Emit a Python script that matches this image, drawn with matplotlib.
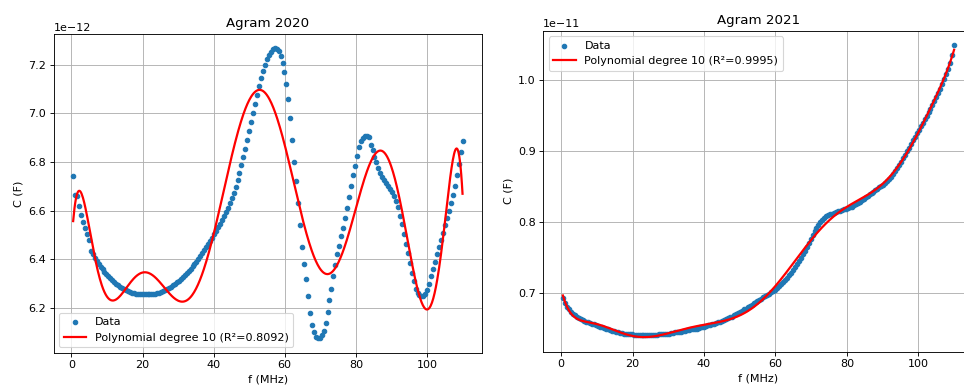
import numpy as np
import matplotlib
matplotlib.use("Agg")
import matplotlib.pyplot as plt

# Frequency grid (MHz): 200 equally spaced samples from 0.5 to 110 MHz
freq_mhz = np.linspace(0.5, 110.0, 200)

# Agram 2020 measured capacitance (units of 1e-12 F)
c2020 = [
    6.742, 6.664, 6.662, 6.618, 6.582, 6.552, 6.527, 6.503, 6.478, 6.433,
    6.423, 6.405, 6.392, 6.380, 6.369, 6.360, 6.350, 6.341, 6.333, 6.324,
    6.316, 6.308, 6.300, 6.294, 6.288, 6.282, 6.277, 6.273, 6.269, 6.266,
    6.263, 6.261, 6.259, 6.258, 6.257, 6.256, 6.256, 6.256, 6.256, 6.256,
    6.257, 6.258, 6.259, 6.261, 6.263, 6.266, 6.269, 6.273, 6.277, 6.282,
    6.287, 6.293, 6.299, 6.305, 6.312, 6.319, 6.327, 6.335, 6.343, 6.352,
    6.361, 6.371, 6.381, 6.391, 6.402, 6.413, 6.425, 6.437, 6.449, 6.461,
    6.474, 6.487, 6.505, 6.518, 6.532, 6.547, 6.563, 6.578, 6.594, 6.610,
    6.630, 6.650, 6.672, 6.697, 6.725, 6.755, 6.787, 6.820, 6.855, 6.890,
    6.926, 6.963, 7.000, 7.038, 7.075, 7.110, 7.143, 7.173, 7.200, 7.222,
    7.240, 7.253, 7.262, 7.266, 7.265, 7.255, 7.235, 7.205, 7.170, 7.120,
    7.060, 6.980, 6.890, 6.800, 6.720, 6.630, 6.540, 6.450, 6.380, 6.320,
    6.250, 6.180, 6.130, 6.100, 6.083, 6.076, 6.076, 6.088, 6.105, 6.140,
    6.185, 6.235, 6.280, 6.330, 6.375, 6.420, 6.455, 6.495, 6.530, 6.570,
    6.610, 6.655, 6.700, 6.745, 6.785, 6.825, 6.860, 6.885, 6.900, 6.908,
    6.908, 6.902, 6.870, 6.850, 6.820, 6.800, 6.775, 6.755, 6.738, 6.724,
    6.712, 6.700, 6.690, 6.675, 6.660, 6.640, 6.615, 6.580, 6.545, 6.505,
    6.465, 6.425, 6.385, 6.345, 6.310, 6.280, 6.262, 6.254, 6.250, 6.251,
    6.258, 6.275, 6.300, 6.330, 6.360, 6.390, 6.420, 6.450, 6.480, 6.510,
    6.540, 6.570, 6.600, 6.630, 6.665, 6.700, 6.745, 6.790, 6.840, 6.888,
]

# Agram 2021 measured capacitance (units of 1e-11 F)
c2021 = [
    0.693, 0.686, 0.681, 0.677, 0.674, 0.671, 0.669, 0.667, 0.665, 0.663,
    0.662, 0.661, 0.660, 0.659, 0.658, 0.657, 0.656, 0.655, 0.654, 0.653,
    0.652, 0.651, 0.650, 0.649, 0.648, 0.647, 0.647, 0.646, 0.645, 0.644,
    0.644, 0.643, 0.643, 0.642, 0.642, 0.642, 0.641, 0.641, 0.641, 0.641,
    0.641, 0.641, 0.641, 0.641, 0.641, 0.641, 0.641, 0.641, 0.641, 0.642,
    0.642, 0.642, 0.642, 0.643, 0.643, 0.644, 0.644, 0.645, 0.645, 0.646,
    0.646, 0.647, 0.647, 0.648, 0.648, 0.649, 0.649, 0.650, 0.650, 0.651,
    0.652, 0.652, 0.653, 0.654, 0.655, 0.655, 0.656, 0.657, 0.658, 0.659,
    0.660, 0.661, 0.662, 0.663, 0.665, 0.666, 0.667, 0.669, 0.670, 0.672,
    0.673, 0.675, 0.677, 0.678, 0.680, 0.682, 0.684, 0.686, 0.688, 0.689,
    0.690, 0.692, 0.694, 0.696, 0.698, 0.699, 0.701, 0.703, 0.705, 0.707,
    0.710, 0.713, 0.716, 0.719, 0.722, 0.726, 0.729, 0.733, 0.737, 0.741,
    0.745, 0.750, 0.755, 0.760, 0.765, 0.771, 0.776, 0.782, 0.787, 0.792,
    0.796, 0.800, 0.803, 0.806, 0.808, 0.810, 0.811, 0.812, 0.813, 0.814,
    0.815, 0.816, 0.817, 0.818, 0.819, 0.820, 0.821, 0.822, 0.824, 0.826,
    0.827, 0.829, 0.831, 0.833, 0.835, 0.837, 0.839, 0.841, 0.843, 0.845,
    0.847, 0.849, 0.851, 0.853, 0.855, 0.858, 0.861, 0.864, 0.868, 0.872,
    0.876, 0.880, 0.885, 0.890, 0.895, 0.900, 0.905, 0.910, 0.915, 0.920,
    0.925, 0.930, 0.935, 0.940, 0.945, 0.950, 0.955, 0.960, 0.965, 0.970,
    0.976, 0.982, 0.988, 0.994, 1.001, 1.008, 1.016, 1.024, 1.035, 1.049,
]

titles = ["Agram 2020", "Agram 2021"]
scales = [1e-12, 1e-11]
r2_labels = ["0.8092", "0.9995"]
legend_locs = ["lower left", "upper left"]
poly_degree = 10

DPI = 80
fig = plt.figure(figsize=(964 / DPI, 389 / DPI), dpi=DPI)
ax1 = fig.add_axes([0.0557, 0.0933, 0.5 - 0.0557, 0.9126 - 0.0933])
ax2 = fig.add_axes([0.5636, 0.0959, 1.010 - 0.5636, 0.921 - 0.0959])

for ax, vals, title, sc, r2, loc in zip(
    [ax1, ax2], [c2020, c2021], titles, scales, r2_labels, legend_locs
):
    y = np.array(vals) * sc
    ax.scatter(freq_mhz, y, s=16, color="#1f77b4", label="Data", zorder=2)
    p = np.polynomial.Polynomial.fit(freq_mhz, y, poly_degree)
    fx = np.linspace(freq_mhz.min(), freq_mhz.max(), 600)
    ax.plot(fx, p(fx), color="red", lw=2,
            label=f"Polynomial degree {poly_degree} (R\u00b2={r2})", zorder=3)
    ax.set_title(title)
    ax.set_xlabel("f (MHz)")
    ax.set_ylabel("C (F)")
    ax.grid(True)
    ax.legend(loc=loc)

fig.savefig("out.png", dpi=DPI)
